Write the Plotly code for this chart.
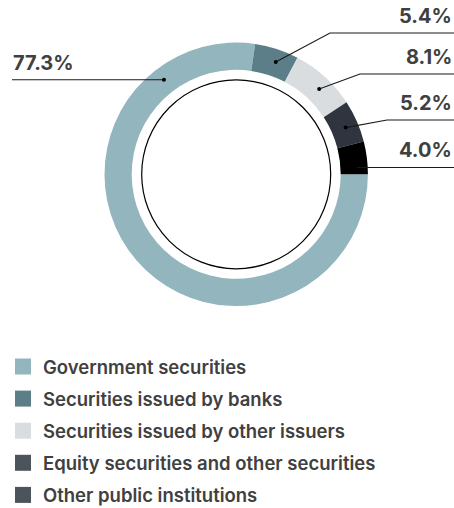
import math
import plotly.graph_objects as go

# --- data ---
categories = [
    "Government securities",
    "Securities issued by banks",
    "Securities issued by other issuers",
    "Equity securities and other securities",
    "Other public institutions",
]
shares = [77.3, 5.4, 8.1, 5.2, 4.0]

# --- styling ---
W, H = 454, 508
slice_colors = ["#93b5bd", "#5c7e88", "#d9dde0", "#2f343e", "#000000"]
legend_colors = ["#93b5bd", "#5c7e88", "#d9dde0", "#4d535b", "#4d535b"]
text_color = "#404040"
font_family = "Inter, Roboto, sans-serif"

cx, cy = 236.2, 174.3          # donut centre (px)
r_out, r_in = 131.7, 104.5      # ring radii (px)
r_guide = 94.5                  # thin inner circle
r_anchor = 119.0                # leader-line anchor radius

# leader-line anchor angle (deg clockwise from 12 o'clock), elbow and label side
anchor_deg = [322.6, 19.4, 44.2, 66.9, 86.7]
elbows = [None, (330, 33), (360, 74), (387, 120), None]
sides = ["left", "right", "right", "right", "right"]


def px(x):
    return x / W


def py(y):
    return 1 - y / H


fig = go.Figure()

fig.add_trace(go.Pie(
    labels=categories,
    values=shares,
    sort=False,
    direction="clockwise",
    rotation=90,
    hole=r_in / r_out,
    marker=dict(colors=slice_colors, line=dict(width=0)),
    textinfo="none",
    hoverinfo="label+percent",
    showlegend=False,
    domain=dict(x=[px(cx - r_out), px(cx + r_out)],
                y=[py(cy + r_out), py(cy - r_out)]),
))

shapes = []
annotations = []

# thin guide circle inside the ring
shapes.append(dict(
    type="circle", xref="paper", yref="paper",
    x0=px(cx - r_guide), x1=px(cx + r_guide),
    y0=py(cy + r_guide), y1=py(cy - r_guide),
    line=dict(color="#000000", width=1.2), fillcolor="rgba(0,0,0,0)",
))

# leader lines, anchor dots and value labels
for val, ang, elbow, side in zip(shares, anchor_deg, elbows, sides):
    a = math.radians(ang)
    dx = cx + r_anchor * math.sin(a)
    dy = cy - r_anchor * math.cos(a)
    if side == "left":
        pts = [(dx, dy), (12, dy)]
        tx, txa = 11, "left"
        ty = dy
    else:
        if elbow is None:
            pts = [(dx, dy), (W, dy)]
            ty = dy
        else:
            pts = [(dx, dy), elbow, (W, elbow[1])]
            ty = elbow[1]
        tx, txa = W, "right"
    path = "M " + " L ".join(f"{px(x):.5f},{py(y):.5f}" for x, y in pts)
    shapes.append(dict(type="path", xref="paper", yref="paper", path=path,
                       line=dict(color="#1a1a1a", width=1.1)))
    shapes.append(dict(type="circle", xref="paper", yref="paper",
                       x0=px(dx - 2), x1=px(dx + 2), y0=py(dy + 2), y1=py(dy - 2),
                       fillcolor="#000000", line=dict(width=0)))
    annotations.append(dict(
        x=px(tx), y=py(ty - 3), xref="paper", yref="paper",
        xanchor=txa, yanchor="bottom", showarrow=False,
        text=f"{val:.1f}%",
        font=dict(family=font_family, size=20, color=text_color, weight=700),
    ))

# legend drawn as swatches + text rows
row0, row_gap, sw = 366.5, 32.1, 16
for i, (name, col) in enumerate(zip(categories, legend_colors)):
    yc = row0 + i * row_gap
    shapes.append(dict(type="rect", xref="paper", yref="paper",
                       x0=px(15), x1=px(15 + sw), y0=py(yc + sw / 2), y1=py(yc - sw / 2),
                       fillcolor=col, line=dict(width=0)))
    annotations.append(dict(
        x=px(41), y=py(yc), xref="paper", yref="paper",
        xanchor="left", yanchor="middle", showarrow=False,
        text=name,
        font=dict(family=font_family, size=18.5, color=text_color, weight=600),
    ))

fig.update_layout(
    width=W, height=H,
    margin=dict(l=0, r=0, t=0, b=0),
    paper_bgcolor="#ffffff",
    plot_bgcolor="#ffffff",
    shapes=shapes,
    annotations=annotations,
    showlegend=False,
)

fig.write_html("out.html")
